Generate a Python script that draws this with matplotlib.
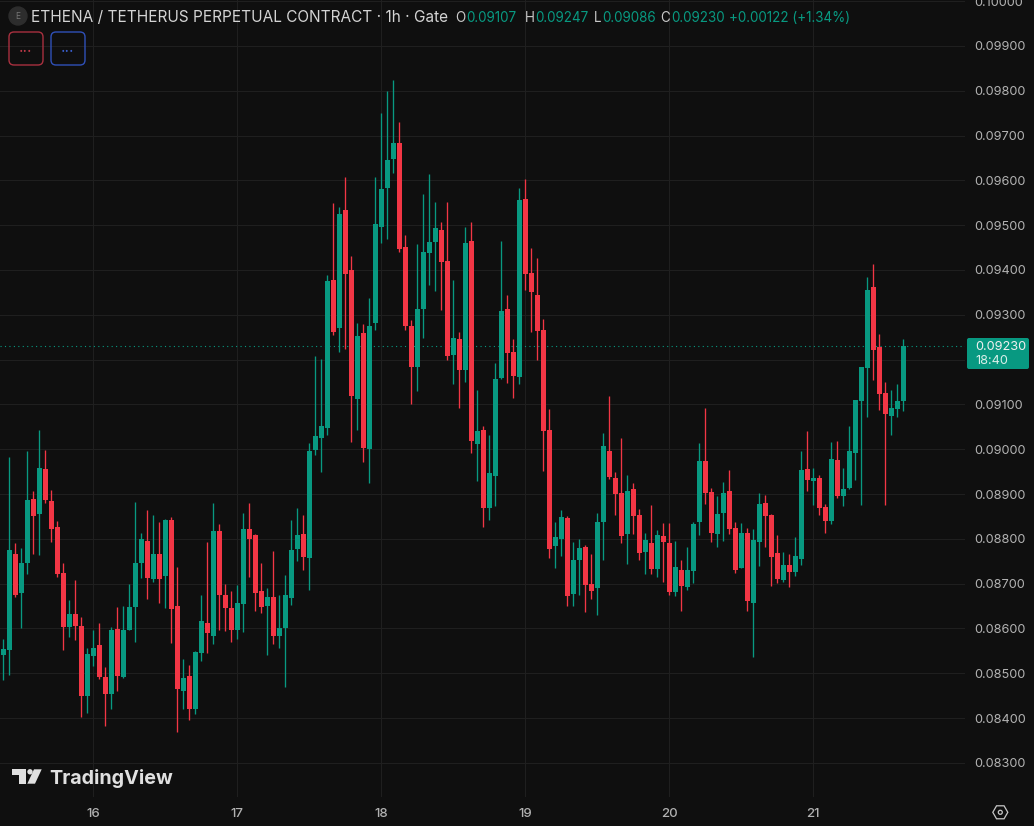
import numpy as np
import matplotlib.pyplot as plt
from matplotlib.patches import Circle, FancyBboxPatch, Polygon, Rectangle

# hourly candles, prices in units of 0.00001
opens = [8541, 8552, 8766, 8680, 8747, 8889, 8856, 8956, 8885, 8827,
         8724, 8604, 8633, 8606, 8450, 8539, 8563, 8492, 8454, 8599,
         8492, 8597, 8648, 8746, 8795, 8711, 8766, 8717, 8842, 8650,
         8461, 8494, 8421, 8546, 8612, 8583, 8818, 8675, 8646, 8597,
         8655, 8822, 8809, 8684, 8650, 8670, 8583, 8601, 8668, 8778,
         8811, 8757, 8998, 9025, 9047, 9378, 9271, 9534, 9400, 9112,
         9259, 9001, 9282, 9496, 9583, 9648, 9683, 9451, 9275, 9184,
         9313, 9438, 9462, 9489, 9420, 9210, 9246, 9177, 9465, 9012,
         9043, 8869, 8940, 9159, 9313, 9217, 9161, 9558, 9393, 9344,
         9266, 9043, 8784, 8800, 8847, 8677, 8753, 8782, 8699, 8691,
         8838, 8996, 8936, 8902, 8811, 8911, 8853, 8771, 8791, 8733,
         8807, 8791, 8682, 8731, 8693, 8728, 8838, 8974, 8905, 8811,
         8858, 8907, 8824, 8735, 8813, 8657, 8793, 8880, 8853, 8769,
         8708, 8742, 8726, 8755, 8956, 8929, 8936, 8871, 8840, 8976,
         8896, 8914, 8992, 9108, 9181, 9362, 9228, 9126, 9074, 9090,
         9107]
highs = [8576, 8982, 8790, 8779, 8996, 8907, 9043, 8998, 8909, 8840,
         8746, 8664, 8708, 8625, 8556, 8597, 8612, 8514, 8604, 8648,
         8650, 8699, 8882, 8813, 8865, 8853, 8838, 8845, 8849, 8737,
         8532, 8519, 8550, 8675, 8793, 8879, 8833, 8699, 8684, 8697,
         8857, 8879, 8811, 8746, 8691, 8773, 8675, 8719, 8842, 8869,
         8853, 9013, 9207, 9201, 9389, 9549, 9541, 9607, 9431, 9281,
         9279, 9337, 9607, 9750, 9799, 9824, 9730, 9478, 9288, 9458,
         9569, 9614, 9552, 9507, 9552, 9378, 9262, 9496, 9507, 9132,
         9052, 9032, 9192, 9465, 9344, 9246, 9583, 9603, 9449, 9427,
         9291, 9090, 8838, 8864, 8851, 8793, 8800, 8786, 8766, 8858,
         9036, 9119, 8949, 9025, 8943, 8925, 8867, 8813, 8876, 8820,
         8836, 8836, 8795, 8753, 8782, 8838, 9014, 9092, 8914, 8896,
         8927, 8954, 8838, 8836, 8824, 8822, 8902, 8898, 8856, 8809,
         8771, 8766, 8804, 8996, 9041, 8958, 8943, 8878, 9016, 9018,
         8958, 9052, 9110, 9184, 9384, 9413, 9257, 9150, 9132, 9146,
         9247]
lows = [8485, 8496, 8670, 8600, 8722, 8767, 8765, 8881, 8793, 8716,
        8552, 8581, 8575, 8403, 8412, 8517, 8487, 8383, 8421, 8461,
        8490, 8597, 8570, 8713, 8666, 8704, 8657, 8646, 8568, 8368,
        8421, 8396, 8409, 8528, 8545, 8566, 8597, 8595, 8570, 8577,
        8592, 8715, 8639, 8635, 8541, 8566, 8557, 8470, 8653, 8751,
        8731, 8686, 8987, 8949, 9032, 9255, 9217, 9224, 9016, 9043,
        8972, 8925, 9266, 9460, 9469, 9616, 9440, 9266, 9101, 9130,
        9248, 9366, 9353, 9311, 9199, 9146, 9092, 9150, 8992, 8929,
        8826, 8842, 8873, 9157, 9148, 9114, 9146, 9355, 9262, 9199,
        8951, 8757, 8735, 8762, 8650, 8650, 8675, 8637, 8666, 8630,
        8753, 8934, 8853, 8791, 8744, 8811, 8753, 8722, 8722, 8715,
        8704, 8675, 8673, 8639, 8686, 8702, 8809, 8878, 8793, 8782,
        8795, 8811, 8724, 8734, 8639, 8537, 8740, 8782, 8695, 8702,
        8704, 8693, 8717, 8742, 8907, 8876, 8853, 8813, 8833, 8891,
        8873, 8911, 8931, 8876, 9072, 9155, 9088, 8876, 9032, 9072,
        9086]
closes = [8554, 8775, 8675, 8746, 8887, 8851, 8958, 8887, 8822, 8722,
          8604, 8633, 8606, 8450, 8543, 8557, 8492, 8454, 8597, 8494,
          8597, 8648, 8746, 8800, 8713, 8766, 8711, 8842, 8644, 8465,
          8490, 8421, 8548, 8617, 8590, 8818, 8675, 8646, 8597, 8657,
          8822, 8800, 8679, 8648, 8670, 8583, 8601, 8675, 8775, 8809,
          8760, 8996, 9030, 9052, 9375, 9262, 9525, 9391, 9119, 9253,
          9003, 9275, 9503, 9581, 9645, 9683, 9447, 9275, 9184, 9313,
          9440, 9462, 9494, 9418, 9208, 9248, 9177, 9460, 9018, 9041,
          8869, 8947, 9157, 9309, 9215, 9164, 9556, 9391, 9351, 9264,
          9041, 8778, 8804, 8849, 8673, 8753, 8780, 8697, 8684, 8838,
          9007, 8938, 8900, 8807, 8907, 8851, 8769, 8798, 8733, 8809,
          8793, 8682, 8737, 8695, 8731, 8833, 8974, 8902, 8813, 8856,
          8902, 8822, 8731, 8813, 8662, 8798, 8878, 8851, 8760, 8711,
          8742, 8726, 8762, 8954, 8931, 8936, 8869, 8840, 8978, 8896,
          8911, 8996, 9110, 9184, 9355, 9221, 9123, 9079, 9092, 9108,
          9230]

day_ticks = [15, 39, 63, 87, 111, 135]
day_labels = ['16', '17', '18', '19', '20', '21']
price_ticks = [0.083, 0.084, 0.085, 0.086, 0.087, 0.088, 0.089, 0.090, 0.091,
               0.092, 0.093, 0.094, 0.095, 0.096, 0.097, 0.098, 0.099, 0.100]
# the 0.09200 level sits behind the last price tag
price_labels = ['0.08300', '0.08400', '0.08500', '0.08600', '0.08700', '0.08800',
                '0.08900', '0.09000', '0.09100', '', '0.09300', '0.09400',
                '0.09500', '0.09600', '0.09700', '0.09800', '0.09900', '0.10000']
last_price = 0.09230

BG = '#0f0f0f'
GRID = '#1f1f1f'
UP = '#089981'
DOWN = '#f23645'
LABEL = '#b2b2b2'
FONT = 'Inter'

W, H = 1034, 826
o = np.array(opens) / 1e5
h = np.array(highs) / 1e5
l = np.array(lows) / 1e5
c = np.array(closes) / 1e5
x = np.arange(len(o))
colors = [UP if c[i] >= o[i] else DOWN for i in x]

fig = plt.figure(figsize=(W / 100, H / 100), dpi=100, facecolor=BG)
ax = fig.add_axes([0, 29 / H, 965 / W, 797 / H], facecolor=BG)

#candles
ax.vlines(x, l, h, colors=colors, linewidth=0.95, zorder=3)
ax.bar(x, c - o, bottom=o, width=0.83, color=colors, linewidth=0, zorder=4)
ax.axhline(last_price, color=UP, linewidth=0.8, linestyle=(0, (1, 3)), zorder=2)

ax.set_xlim(-0.555, 160.28)
ax.set_ylim(0.08224, 0.100024)
ax.grid(True, color=GRID, linewidth=0.8, zorder=0)
ax.set_axisbelow(True)
for s in ax.spines.values():
    s.set_visible(False)

ax.yaxis.tick_right()
ax.set_yticks(price_ticks, price_labels, family=FONT, fontsize=9.2, color=LABEL)
ax.set_xticks(day_ticks, day_labels, family=FONT, fontsize=9.5, color=LABEL, fontweight='medium')
ax.tick_params(axis='y', length=0, pad=7)
ax.tick_params(axis='x', length=0, pad=8)

#overlay in pixel coordinates for the header, price tag and logo
ui = fig.add_axes([0, 0, 1, 1], facecolor='none')
ui.set_xlim(0, W)
ui.set_ylim(H, 0)
ui.axis('off')

ui.add_patch(Circle((18, 16), 9, color='#2d2d2d'))
ui.text(18, 16.5, 'E', family=FONT, fontsize=6, color='#777777', ha='center', va='center')
ui.text(31, 17.5, 'ETHENA / TETHERUS PERPETUAL CONTRACT · 1h · Gate', family=FONT,
        fontsize=11.08, color='#d4d4d4', va='center')

for xpos, letter, xval, val in [(455, 'O', 466, '0.09107'), (525, 'H', 535, '0.09247'),
                                (594, 'L', 602, '0.09086'), (660, 'C', 671, '0.09230')]:
    ui.text(xpos, 17.5, letter, family=FONT, fontsize=9.7, color='#c8c8c8', va='center')
    ui.text(xval, 17.5, val, family=FONT, fontsize=9.7, color=UP, va='center')
ui.text(729, 17.5, '+0.00122 (+1.34%)', family=FONT, fontsize=9.7, color=UP, va='center')

for xpos, col, dots in [(9, '#a8303f', '#c23a4a'), (51, '#2f50b8', '#3a60d0')]:
    ui.add_patch(FancyBboxPatch((xpos + 3, 35), 28, 27, boxstyle='round,pad=3,rounding_size=5',
                                facecolor='none', edgecolor=col, linewidth=1))
    ui.text(xpos + 17, 48, '...', family=FONT, fontsize=11, color=dots, ha='center', va='center')

# price tag
ui.add_patch(FancyBboxPatch((968, 339), 60, 29, boxstyle='round,pad=1,rounding_size=2',
                            facecolor=UP, edgecolor='none'))
ui.text(975, 347, '0.09230', family=FONT, fontsize=9.2, color='#f0f0f0', va='center')
ui.text(975, 361, '18:40', family=FONT, fontsize=9.2, color='#d8efe9', va='center')

# logo
LOGO = '#e0e0e0'
ui.add_patch(Rectangle((12, 769.3), 14, 5.7, color=LOGO, linewidth=0))
ui.add_patch(Rectangle((19.3, 769.3), 6.7, 14.4, color=LOGO, linewidth=0))
ui.add_patch(Circle((30, 771.8), 2.7, color=LOGO, linewidth=0))
ui.add_patch(Polygon([(34, 769.3), (41.7, 769.3), (35, 783.7), (27.3, 783.7)], color=LOGO, linewidth=0))
ui.text(49, 778, 'TradingView', family=FONT, fontsize=14.2, fontweight='bold', color=LOGO, va='center')

# settings button
angles = np.deg2rad(np.arange(0, 360, 60))
hexagon = np.column_stack([1000.3 + 7.5 * np.cos(angles), 812.3 + 7.5 * np.sin(angles)])
ui.add_patch(Polygon(hexagon, closed=True, facecolor='none', edgecolor='#c8c8c8', linewidth=0.9))
ui.add_patch(Circle((1000.3, 812.3), 2, facecolor='none', edgecolor='#c8c8c8', linewidth=0.9))

fig.savefig('out.png', dpi=100, facecolor=BG)
